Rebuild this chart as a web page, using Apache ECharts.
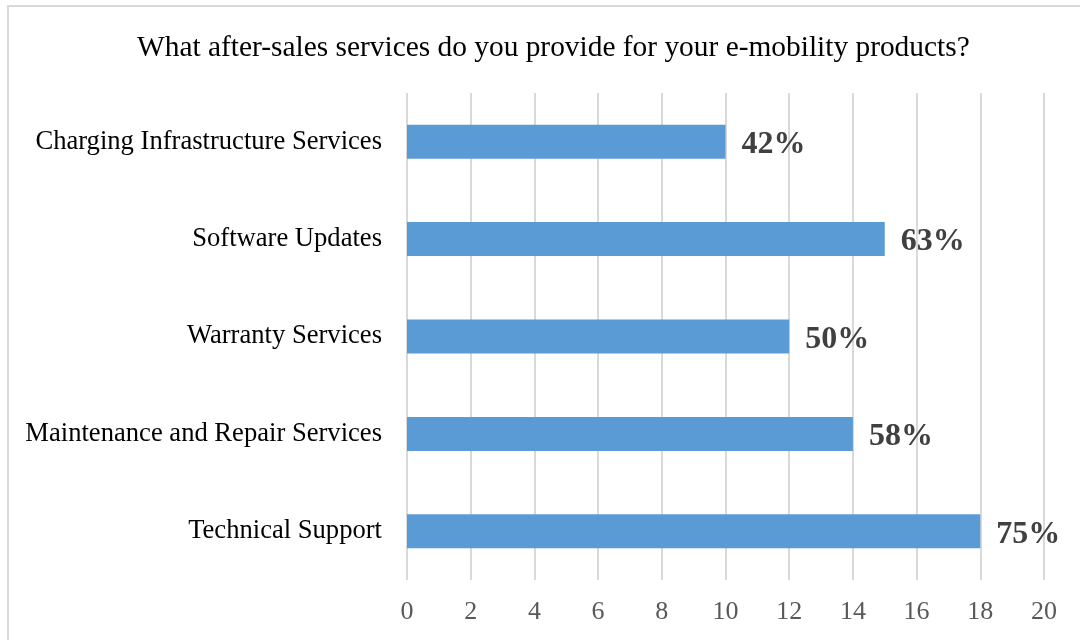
<!DOCTYPE html>
<html>
<head>
<meta charset="utf-8">
<style>
  html, body { margin: 0; padding: 0; background: #ffffff; }
  #chart { width: 1080px; height: 640px; }
</style>
<script src="https://cdn.jsdelivr.net/npm/echarts@6/dist/echarts.min.js"></script>
</head>
<body>
<div id="chart"></div>
<script>
// Survey: after-sales services offered (number of respondents, n = 24)
const categories = [
  'Technical Support',
  'Maintenance and Repair Services',
  'Warranty Services',
  'Software Updates',
  'Charging Infrastructure Services'
];
const counts = [18, 14, 12, 15, 10];
const shareLabels = ['75%', '58%', '50%', '63%', '42%'];
const titleText = 'What after-sales services do you provide for your e-mobility products?';

const serif = '"Liberation Serif", "Times New Roman", serif';
const chart = echarts.init(document.getElementById('chart'), null, { renderer: 'canvas' });

chart.setOption({
  animation: false,
  backgroundColor: '#ffffff',
  title: {
    text: titleText,
    left: 132,
    top: 29,
    textStyle: { fontFamily: serif, fontSize: 29.4, fontWeight: 'normal', color: '#000000' }
  },
  graphic: [{
    type: 'rect',
    shape: { x: 8, y: 6, width: 1200, height: 800 },
    style: { fill: 'none', stroke: '#d9d9d9', lineWidth: 2 },
    silent: true
  }],
  grid: { left: 407, right: 36, top: 93, bottom: 60, containLabel: false },
  xAxis: {
    type: 'value',
    min: 0,
    max: 20,
    interval: 2,
    axisLine: { show: false },
    axisTick: { show: false },
    splitLine: { show: true, lineStyle: { color: '#d9d9d9', width: 2 } },
    axisLabel: { fontFamily: serif, fontSize: 26, color: '#595959', margin: 19 }
  },
  yAxis: {
    type: 'category',
    data: categories,
    axisLine: { show: false },
    axisTick: { show: false },
    axisLabel: { fontFamily: serif, fontSize: 26.6, color: '#000000', margin: 25 }
  },
  series: [{
    type: 'bar',
    data: counts,
    barWidth: 34,
    itemStyle: { color: '#5b9bd5' },
    label: {
      show: true,
      position: 'right',
      distance: 16,
      offset: [0, 3],
      formatter: p => shareLabels[p.dataIndex],
      fontFamily: serif,
      fontSize: 32,
      fontWeight: 'bold',
      color: '#404040'
    }
  }]
});
</script>
</body>
</html>
